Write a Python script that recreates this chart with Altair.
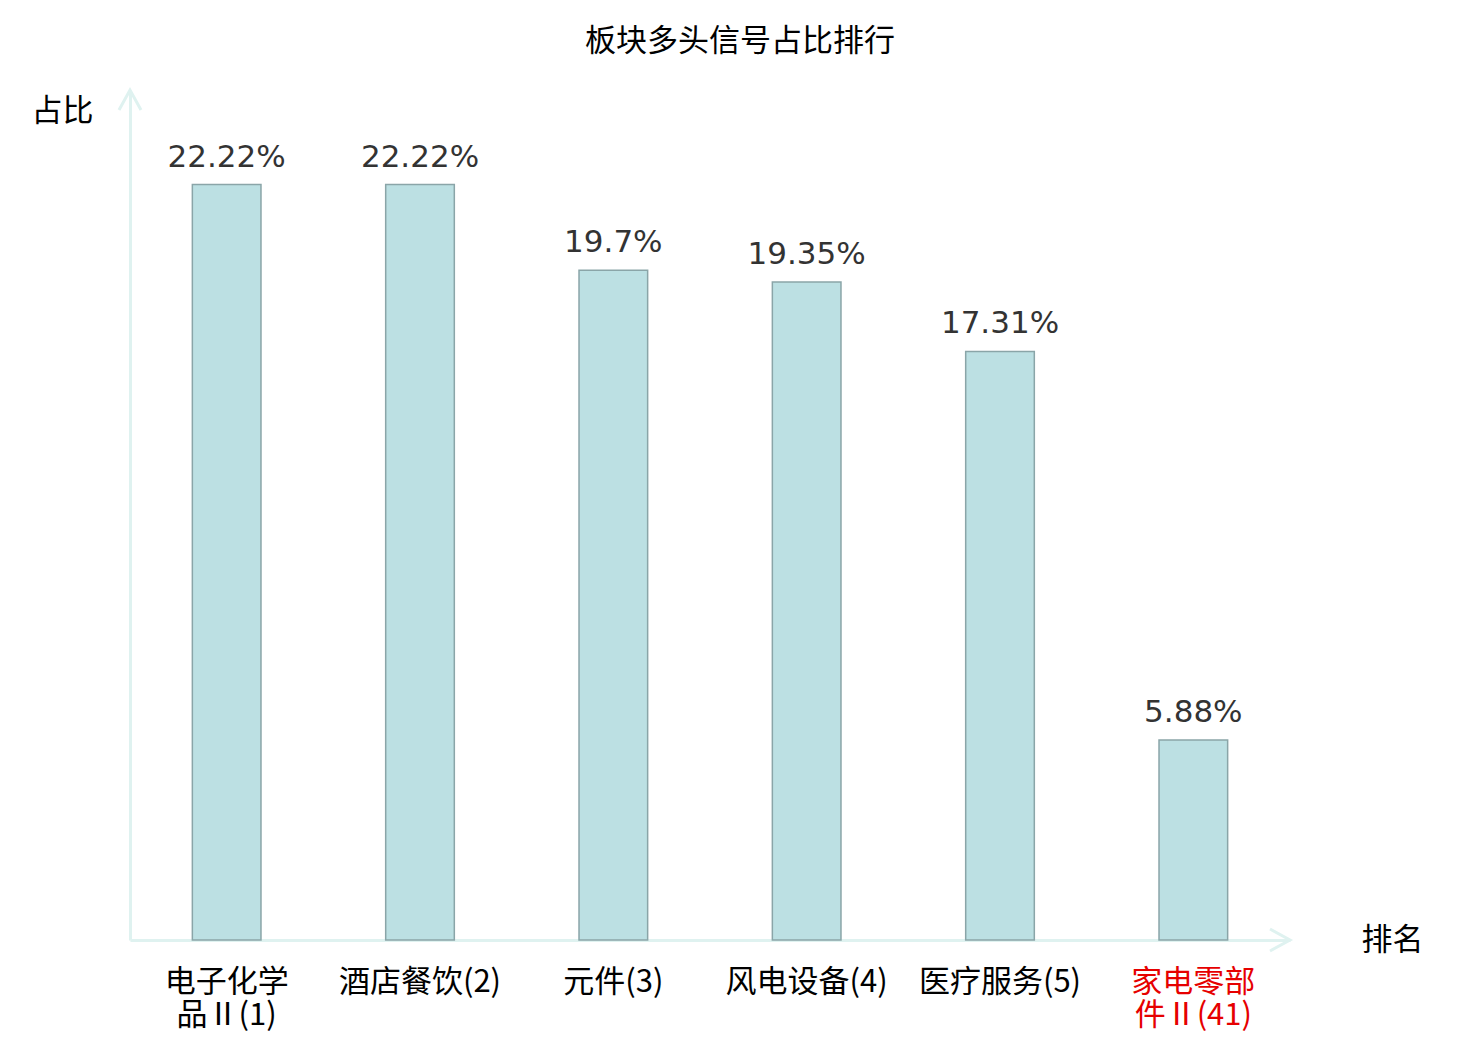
import altair as alt
import pandas as pd

# ---- data ----
categories = ["电子化学|品Ⅱ(1)", "酒店餐饮(2)", "元件(3)", "风电设备(4)", "医疗服务(5)", "家电零部|件Ⅱ(41)"]
values = [22.22, 22.22, 19.7, 19.35, 17.31, 5.88]
highlight = "家电零部|件Ⅱ(41)"

df = pd.DataFrame({"sector": categories, "pct": values})

AXIS_COLOR = "#dff2f0"
CJK = "Noto Sans CJK SC"

x_enc = alt.X(
    "sector:N",
    sort=categories,
    scale=alt.Scale(paddingInner=0.645, paddingOuter=0.3225),
    axis=alt.Axis(
        title="排名",
        titleAngle=0,
        titleX=1231,
        titleY=0,
        titleAlign="left",
        titleBaseline="middle",
        titleFont=CJK,
        titleFontSize=31,
        titleFontWeight="normal",
        titleColor="black",
        labelExpr="split(datum.value, '|')",
        labelAngle=0,
        labelFont=CJK,
        labelFontSize=31,
        labelLineHeight=33,
        labelPadding=27,
        labelColor=alt.condition(f"datum.value == '{highlight}'", alt.value("#e60000"), alt.value("black")),
        ticks=False,
        domainColor=AXIS_COLOR,
        domainWidth=3,
    ),
)

y_enc = alt.Y(
    "pct:Q",
    scale=alt.Scale(domain=[0, 25], nice=False),
    axis=alt.Axis(
        title="占比",
        labels=False,
        ticks=False,
        grid=False,
        domainColor=AXIS_COLOR,
        domainWidth=3,
        titleAngle=0,
        titleX=-37,
        titleY=21,
        titleAlign="right",
        titleBaseline="middle",
        titleFont=CJK,
        titleFontSize=31,
        titleFontWeight="normal",
        titleColor="black",
    ),
)

base = alt.Chart(df)

bars = base.mark_bar(fill="#bce0e3", stroke="#8aa5a8", strokeWidth=1.5).encode(x=x_enc, y=y_enc)

text = base.transform_calculate(label="datum.pct + '%'").mark_text(
    font="DejaVu Sans", fontSize=31, color="#333333", baseline="alphabetic", dy=-18
).encode(x=alt.X("sector:N", sort=categories), y=alt.Y("pct:Q"), text="label:N")

arrow_y = alt.Chart(pd.DataFrame({"a": [0]})).mark_point(
    shape="M-0.55,1L0,0L0.55,1", size=1600, filled=False, stroke=AXIS_COLOR, strokeWidth=3, opacity=1
).encode(x=alt.value(0), y=alt.datum(25))

arrow_x = alt.Chart(pd.DataFrame({"a": [0]})).mark_point(
    shape="M-1,-0.55L0,0L-1,0.55", size=1600, filled=False, stroke=AXIS_COLOR, strokeWidth=3, opacity=1
).encode(x=alt.value(1160), y=alt.datum(0))

chart = alt.layer(bars, text, arrow_y, arrow_x).properties(
    width=1160,
    height=850,
    title=alt.TitleParams(
        "板块多头信号占比排行", font=CJK, fontSize=31, fontWeight="normal", color="black", offset=26, dx=30
    ),
    autosize=alt.AutoSizeParams(type="none"),
    padding={"left": 122, "top": 82, "right": 160, "bottom": 92},
).configure_view(stroke=None)

chart.save("out.html", embed_options={"renderer": "svg", "actions": False})
